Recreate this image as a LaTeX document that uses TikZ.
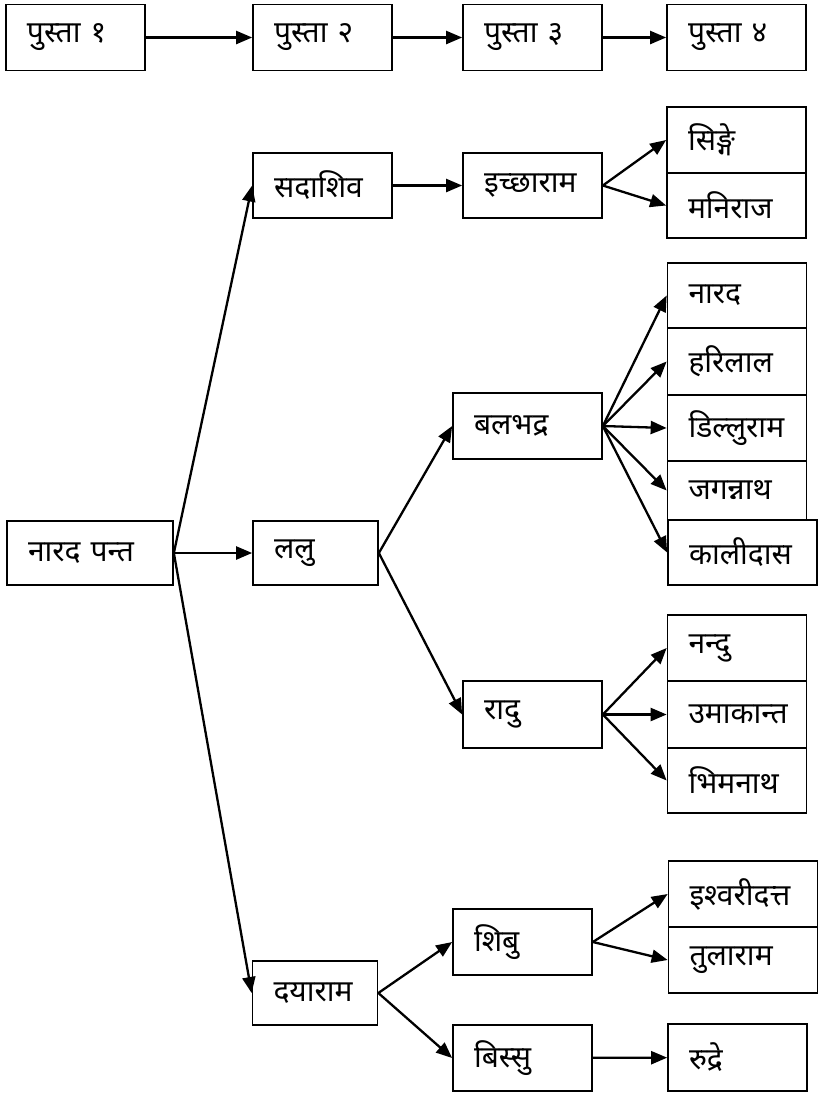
\documentclass[tikz,border=0pt]{standalone}
\usepackage{fontspec}
\newfontfamily\deva[Script=Devanagari]{Noto Sans}
\usetikzlibrary{arrows.meta}

\begin{document}
\begin{tikzpicture}[x=1pt, y=-1pt,
    gen/.style={draw, line width=1.7pt, minimum height=66pt, text width=97pt, inner xsep=21pt, inner ysep=0pt, align=left, font=\deva\fontsize{30}{34}\selectfont},
    genwide/.style={gen, text width=107pt},
    genshort/.style={gen, text width=83pt},
    link/.style={line width=2.3pt, -{Triangle[length=16pt, width=13pt]}}]
  \useasboundingbox (0, 0) rectangle (819, 1093);

  \node [gen] (Pusta_one) at (75.5, 37.5) {पुस्ता १};
  \node [gen] (Pusta_two) at (322.5, 37.5) {पुस्ता २};
  \node [gen] (Pusta_three) at (532.5, 37.5) {पुस्ता ३};
  \node [gen] (Pusta_four) at (736.5, 37.5) {पुस्ता ४};

  \node [gen, text width=124pt, minimum height=64pt] (Narad_pant) at (90, 553) {नारद पन्त};

  \node [gen, minimum height=65pt] (Sadashiv_node) at (322.5, 185.5) {सदाशिव};
  \node [genshort, minimum height=64pt] (Lalu_node) at (315.5, 553) {ललु};
  \node [genshort, minimum height=64pt] (Dayaram_node) at (315, 993) {दयाराम};

  \node [gen, minimum height=65pt] (Ichharam_node) at (532.5, 185.5) {इच्छाराम};
  \node [genwide] (Balbhadra_node) at (527.5, 426) {बलभद्र};
  \node [gen, minimum height=67pt] (Radu_node) at (532.5, 714.5) {रादु};
  \node [gen] (Shibu_node) at (522.5, 942) {शिबु};
  \node [gen] (Bissu_node) at (522.5, 1058) {बिस्सु};

  \node [gen] (Singe_node) at (736.5, 140) {सिङ्गे};
  \node [gen, minimum height=65pt] (Maniraj_node) at (736.5, 205.5) {मनिराज};

  \node [gen, minimum height=65pt] (Narad_node) at (737, 295.5) {नारद};
  \node [gen, minimum height=67pt] (Harilal_node) at (737, 361.5) {हरिलाल};
  \node [gen] (Dilluram_node) at (737, 428) {डिल्लुराम};
  \node [gen, minimum height=59pt] (Jagannath_node) at (737, 490.5) {जगन्नाथ};
  \node [genwide, minimum height=65pt] (Kalidas_node) at (742.5, 552.5) {कालीदास};

  \node [gen] (Nandu_node) at (737, 648) {नन्दु};
  \node [gen, minimum height=67pt] (Umakant_node) at (737, 714.5) {उमाकान्त};
  \node [gen, minimum height=65pt] (Bhimnath_node) at (737, 780.5) {भिमनाथ};

  \node [genwide] (Ishwari_node) at (743, 894) {इश्वरीदत्त};
  \node [genwide] (Tularam_node) at (743, 960) {तुलाराम};
  \node [gen, minimum height=67pt] (Rudre_node) at (737.5, 1057.5) {रुद्रे};

  \draw [link] (Pusta_one) -- (Pusta_two);
  \draw [link] (Pusta_two) -- (Pusta_three);
  \draw [link] (Pusta_three) -- (Pusta_four);

  \draw [link] (Narad_pant.east) -- (Sadashiv_node.west);
  \draw [link] (Narad_pant.east) -- (Lalu_node.west);
  \draw [link] (Narad_pant.east) -- (Dayaram_node.west);

  \draw [link] (Sadashiv_node) -- (Ichharam_node);
  \draw [link] (Ichharam_node.east) -- (Singe_node.west);
  \draw [link] (Ichharam_node.east) -- (Maniraj_node.west);

  \draw [link] (Lalu_node.east) -- (Balbhadra_node.west);
  \draw [link] (Lalu_node.east) -- (Radu_node.west);

  \draw [link] (Balbhadra_node.east) -- (Narad_node.west);
  \draw [link] (Balbhadra_node.east) -- (Harilal_node.west);
  \draw [link] (Balbhadra_node.east) -- (Dilluram_node.west);
  \draw [link] (Balbhadra_node.east) -- (Jagannath_node.west);
  \draw [link] (Balbhadra_node.east) -- (Kalidas_node.west);

  \draw [link] (Radu_node.east) -- (Nandu_node.west);
  \draw [link] (Radu_node.east) -- (Umakant_node.west);
  \draw [link] (Radu_node.east) -- (Bhimnath_node.west);

  \draw [link] (Dayaram_node.east) -- (Shibu_node.west);
  \draw [link] (Dayaram_node.east) -- (Bissu_node.west);

  \draw [link] (Shibu_node.east) -- (Ishwari_node.west);
  \draw [link] (Shibu_node.east) -- (Tularam_node.west);
  \draw [link] (Bissu_node) -- (Rudre_node);
\end{tikzpicture}
\end{document}
